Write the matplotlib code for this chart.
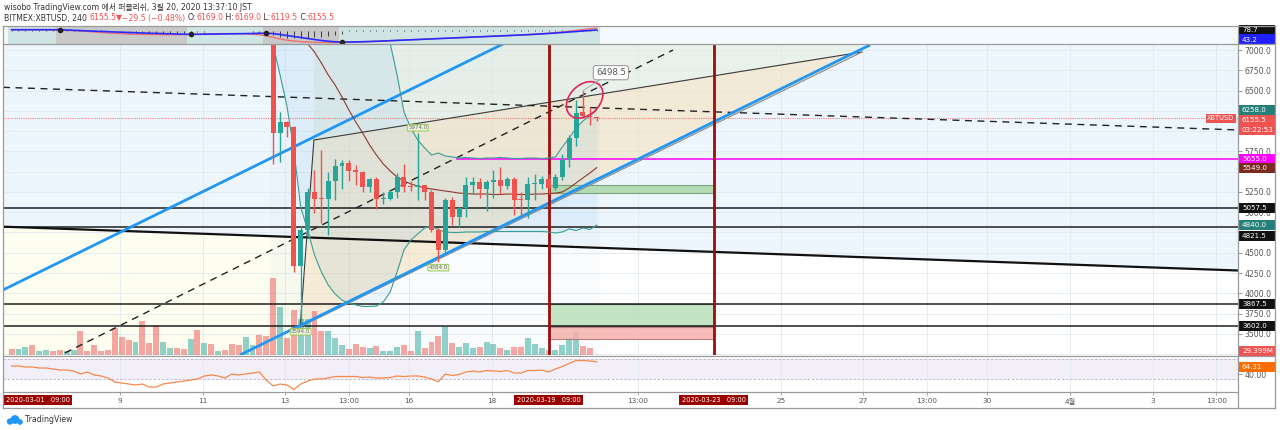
import matplotlib
matplotlib.use("Agg")
import matplotlib.pyplot as plt
import matplotlib.dates as mdates
import matplotlib.patches as mpatches
import matplotlib.transforms as mtransforms
from matplotlib import font_manager as fm
from matplotlib.lines import Line2D
import numpy as np
import pandas as pd


def pick_font(*names):
    for n in names:
        try:
            fm.findfont(fm.FontProperties(family=n), fallback_to_default=False)
            return n
        except Exception:
            pass
    return "DejaVu Sans"


base_font = pick_font("Liberation Sans Narrow", "DejaVu Sans")
plt.rcParams['font.family'] = [base_font, 'DejaVu Sans', 'Noto Sans CJK KR']
fs = 6.6 if base_font != "DejaVu Sans" else 5.6

# ---------------- data: BITMEX XBTUSD, 4h bars ----------------
last_bar = "2020-03-20 13:00"
n_bars = 86          # all bars in view (the first 38 trade above the window)
n_pre = 38
view_start, view_end = "2020-03-06 04:00", "2020-04-05 01:40"
price_lo, price_hi = 3239, 7074

opens = [7650, 5980, 6116, 6047, 4336, 4780, 5254, 5165, 5159, 5389,
         5570, 5603, 5520, 5492, 5315, 5406, 5159, 5159, 5249, 5430,
         5315, 5305, 5335, 5253, 4780, 4534, 5150, 4945, 5052, 5335,
         5376, 5282, 5376, 5397, 5323, 5406, 5160, 5150, 5348, 5348,
         5406, 5294, 5438, 5644, 5911, 6232, 6190, 6169]
highs = [7950, 6239, 6130, 6060, 4830, 5300, 5520, 5767, 5499, 5660,
         5640, 5640, 5580, 5510, 5420, 5430, 5250, 5270, 5480, 5590,
         5380, 5974, 5340, 5270, 4810, 5170, 5190, 5060, 5435, 5440,
         5420, 5400, 5520, 5560, 5430, 5430, 5250, 5430, 5470, 5450,
         5470, 5470, 5720, 5950, 6380, 6498.5, 6300, 6169]
lows = [5594, 5624, 5931, 4266, 3594, 4700, 4990, 4870, 4719, 5150,
        5290, 5389, 5330, 5255, 5255, 5040, 5100, 5150, 5180, 5253,
        5260, 5150, 5150, 4760, 4384, 4500, 4840, 4820, 4945, 5220,
        5170, 5020, 5170, 5230, 5280, 4960, 4960, 4930, 5150, 5290,
        5230, 5270, 5400, 5560, 5820, 6170, 6080, 6119.5]
closes = [5980, 6116, 6047, 4336, 4780, 5255, 5161, 5159, 5389, 5570,
          5603, 5512, 5492, 5315, 5406, 5159, 5170, 5249, 5430, 5307,
          5305, 5335, 5253, 4780, 4534, 5150, 4945, 5052, 5335, 5376,
          5282, 5376, 5397, 5323, 5406, 5150, 5150, 5348, 5360, 5406,
          5294, 5438, 5644, 5911, 6227, 6190, 6170, 6155.5]

# volume in millions of contracts
volume_pre = [630, 630, 800, 970, 400, 500, 400, 500, 400, 500,
              2400, 400, 1000, 400, 500, 2700, 1800, 1500, 1300, 3400,
              1170, 3000, 1300, 730, 730, 630, 1630, 2500, 1170, 1070,
              400, 500, 1130, 1000, 1830, 970, 2000, 1900]
volume_pre_up = [0, 1, 1, 0, 1, 1, 0, 0, 1, 1, 0, 0, 0, 0, 0, 0, 0, 0, 1, 0,
                 0, 0, 1, 1, 0, 0, 1, 0, 1, 0, 1, 0, 0, 0, 1, 1, 0, 0]
volume = [7670, 4830, 1700, 4500, 3600, 3600, 4400, 2400, 2400, 1700,
          1000, 600, 1100, 830, 670, 930, 430, 430, 770, 1000,
          430, 2430, 670, 1270, 1930, 2770, 1200, 770, 1200, 670,
          830, 1330, 1100, 670, 530, 770, 770, 1670, 1100, 670,
          530, 500, 1030, 1670, 2270, 930, 670, 29.4]

# Bollinger bands
bb_upper = [8250, 8300, 8350, 8500, 8700, 8750, 8700, 8650, 8600, 8550,
            8450, 8350, 8200, 8000, 7800, 7550, 7300, 7080, 6692, 6236,
            6038, 5890, 5792, 5705, 5730, 5693, 5681, 5668, 5675, 5668,
            5662, 5668, 5668, 5675, 5668, 5662, 5662, 5668, 5668, 5662,
            5668, 5681, 5804, 5915, 6038, 6125, 6186, 6258]
bb_basis = [7560, 7470, 7380, 7260, 7160, 7080, 6975, 6840, 6692, 6568,
            6420, 6260, 6112, 5977, 5830, 5705, 5594, 5508, 5434, 5385,
            5348, 5323, 5298, 5286, 5274, 5261, 5249, 5236, 5230, 5224,
            5224, 5224, 5218, 5218, 5224, 5224, 5218, 5218, 5224, 5224,
            5230, 5236, 5249, 5298, 5360, 5422, 5483, 5549]
bb_lower = [7062, 6692, 6310, 5767, 5064, 4781, 4472, 4263, 4102, 3991,
            3917, 3880, 3856, 3837, 3837, 3843, 3893, 4016, 4263, 4534,
            4657, 4731, 4805, 4830, 4781, 4756, 4750, 4750, 4756, 4756,
            4756, 4762, 4762, 4762, 4762, 4762, 4762, 4762, 4762, 4762,
            4756, 4744, 4756, 4793, 4774, 4805, 4787, 4840]

rsi = [56.2, 56.2, 54.2, 54.2, 52.3, 52.3, 50.3, 48.3, 48.3, 46.4,
       40.4, 44.4, 38.5, 36.5, 32.6, 24.7, 22.7, 20.7, 18.8, 20.7,
       14.8, 14.8, 20.7, 22.7, 24.7, 26.6, 28.6, 30.6, 36.5, 38.5,
       36.5, 32.6, 40.4, 38.5, 40.4, 42.4, 44.4, 28.6,
       16.8, 20.7, 18.8, 9.9, 20.7, 26.6, 30.6, 30.6, 32.6, 35.5,
       35.5, 35.5, 35.5, 33.5, 34.5, 32.6, 32.6, 33.5, 36.5, 35.5,
       36.5, 36.5, 34.5, 30.6, 25.3, 40.4, 37.5, 39.5, 44.4, 46.4,
       44.4, 47.3, 46.4, 45.4, 47.3, 42.4, 42.4, 47.3, 47.3, 48.3,
       44.4, 50.3, 55.2, 61.1, 67.0, 67.0, 66.1, 64.31]

# top oscillator pane
osc_blue = [14.3, 14.3, 14.3, 14.3, 14.3, 14.3, 14.3, 14.3,
            14.0, 13.7, 13.4, 13.1, 12.8, 12.6, 12.3, 12.0, 11.8, 11.5,
            11.3, 11.0, 10.8, 10.6, 10.4, 10.2, 10.0, 9.8, 9.6,
            9.7, 9.8, 9.9, 10.0, 10.1, 10.2, 10.3, 10.4, 10.5, 10.7, 10.8,
            10.4, 9.5, 8.5, 7.5, 6.5, 5.5, 4.5, 3.5, 2.8, 2.2, 1.9,
            2.0, 2.1, 2.3, 2.5, 2.7, 3.0, 3.3, 3.6, 3.9, 4.2,
            4.5, 4.8, 5.1, 5.4, 5.7, 6.0, 6.3, 6.6, 6.9, 7.2,
            7.5, 7.8, 8.1, 8.4, 8.7, 9.0, 9.3, 9.7, 10.1, 10.5,
            11.0, 11.5, 12.0, 12.5, 13.0, 13.5, 14.0]
osc_red = [14.3, 14.3, 14.2, 14.2, 14.1, 14.1, 14.0, 13.9,
           13.7, 13.4, 13.0, 12.5, 12.0, 11.5, 11.0, 10.6, 10.3, 10.0,
           9.8, 9.6, 9.5, 9.4, 9.3, 9.3, 9.4, 9.5, 9.6,
           9.8, 10.0, 10.2, 10.3, 10.4, 10.4, 10.3, 10.1, 9.8, 9.2, 8.2,
           6.5, 5.0, 3.8, 3.0, 2.4, 2.0, 1.7, 1.5, 1.4, 1.4, 1.5,
           1.7, 1.9, 2.1, 2.4, 2.7, 3.0, 3.3, 3.6, 3.9, 4.2,
           4.5, 4.8, 5.1, 5.4, 5.7, 6.0, 6.3, 6.6, 6.9, 7.2,
           7.5, 7.8, 8.1, 8.4, 8.7, 9.0, 9.4, 9.8, 10.3, 10.8,
           11.4, 12.0, 12.8, 13.6, 14.4, 15.2, 15.8]
osc_hist = [0.3, 0.3, 0.2, 0.3, 0.3, 0.2, 0.3, 0.3, 0.2, 0.3, 0.3, 0.2, 0.3, 0.2,
            -1.5, -2, -2.5, -3, -3, -3.5, -3.5, -3, -3, -2.5, -2, -2, -1.5,
            -1, -1, -0.8, -0.6, -0.5, -0.5, -0.6, -0.8, -1.2, -2,
            -3, -4.5, -6, -7, -7.5, -7.5, -7, -6.5, -6, -5, -4, -3,
            0.6, 0.7, 0.8, 0.8, 0.9, 0.9, 1.0, 1.0, 1.0, 1.0,
            1.0, 1.0, 0.9, 0.9, 0.9, 0.9, 0.8, 0.8, 0.8, 0.8,
            0.8, 0.8, 0.8, 0.9, 0.9, 0.9, 0.9, 1.0, 1.0, 1.0,
            1.0, 1.0, 1.0, 1.1, 1.1, 1.1, 1.1]
osc_zero = 13.4
osc_tags = [("78.7", "#111111"), ("43.2", "#2020ff")]
regime_runs = [("#cfe5e3", 7), ("#c9c9c9", 19), ("#cfe5e3", 11), ("#c9c9c9", 11), ("#cfe5e3", 38)]

# drawings on the price pane: (time, price) points
channel_upper = [("2020-03-06 04:00", 4041), ("2020-03-18 06:30", 7074)]
channel_lower = [("2020-03-11 21:45", 3239), ("2020-03-27 03:50", 7062)]
wedge = [("2020-03-13 08:40", 3585), ("2020-03-13 16:40", 5890), ("2020-03-26 23:10", 6975)]
dash_steep = [("2020-03-07 16:00", 3264), ("2020-03-22 09:20", 7000)]
dash_flat = [("2020-03-06 04:00", 6540), ("2020-04-05 01:40", 6014)]
slope_black = [("2020-03-06 04:00", 4821.5), ("2020-04-05 01:40", 4281)]
black_levels = [5057.5, 4821.5, 3867.5, 3602.0]
magenta_level, magenta_from = 5655.0, "2020-03-17 04:00"
vertical_marks = ["2020-03-19 09:00", "2020-03-23 09:00"]
zones = [(5240, 5335, "#a9d8a9", "#6f9a6f"),
         (3602, 3867.5, "#b8e0b8", "#555555"),
         (3440, 3590, "#f7b2ae", "#b07070")]
ring_center = ("2020-03-20 06:00", 6385)
last_price = 6155.5
countdown = "03:22:53"
volume_now = "29.399M"

# price-scale labels that are not hidden behind the value tags
price_ticks = [3500, 3750, 4000, 4250, 4500, 5000, 5250, 5750, 6500, 6750, 7000]

xtick_times = ["2020-03-09", "2020-03-11", "2020-03-13", "2020-03-14 13:00", "2020-03-16",
               "2020-03-18", "2020-03-21 13:00", "2020-03-25", "2020-03-27",
               "2020-03-28 13:00", "2020-03-30", "2020-04-01", "2020-04-03", "2020-04-04 13:00"]
xtick_labels = ["9", "11", "13", "13:00", "16", "18", "13:00", "25", "27",
                "13:00", "30", "4월", "3", "13:00"]

# ---------------- figure ----------------
W, H = 1280, 430
fig = plt.figure(figsize=(W / 100, H / 100), dpi=100, facecolor="white")


def px_box(x0, y0, x1, y1):
    return [x0 / W, 1 - y1 / H, (x1 - x0) / W, (y1 - y0) / H]


def T(s):
    return mdates.date2num(pd.Timestamp(s))


ax_osc = fig.add_axes(px_box(3, 26, 1238, 44))
ax = fig.add_axes(px_box(3, 44, 1238, 355))
ax_rsi = fig.add_axes(px_box(3, 356, 1238, 392))

t = mdates.date2num(pd.date_range(end=last_bar, periods=n_bars, freq="4h"))
tc = t[n_pre:]
bar = 4 / 24
x_lo, x_hi = T(view_start), T(view_end)

for a in (ax_osc, ax, ax_rsi):
    a.set_xlim(x_lo, x_hi)
    for sp in a.spines.values():
        sp.set_visible(False)
    a.tick_params(axis="x", bottom=False, labelbottom=False)

grid_c = "#e1e9f0"

# ---- main pane backgrounds ----
ax.set_ylim(price_lo, price_hi)
ax.set_facecolor("white")
(sa, pa), (sb, pb) = slope_black
ta, tb = T(sa), T(sb)
ax.fill([ta, tb, tb, ta], [pa, pb, price_hi, price_hi], color="#eef6fd", lw=0, zorder=0.1)
tw0 = T(wedge[0][0])
pw0 = np.interp(tw0, [ta, tb], [pa, pb])
ax.fill([ta, tw0, tw0, ta], [pa, pw0, price_lo, price_lo], color="#fdfdf0", lw=0, zorder=0.1)

for p in np.arange(3250, 7001, 250):
    ax.axhline(p, color=grid_c, lw=0.6, zorder=0.3)
for s in xtick_times:
    ax.axvline(T(s), color=grid_c, lw=0.6, zorder=0.3)
    ax_rsi.axvline(T(s), color=grid_c, lw=0.6, zorder=0.3)

# wedge (triangle pattern) and tint above it
wx = [T(s) for s, _ in wedge]
wy = [p for _, p in wedge]
ax.fill([wx[1], wx[2], wx[2], wx[1]], [wy[1], wy[2], price_hi, price_hi],
        color="#e4edd6", alpha=0.45, lw=0, zorder=0.4)
ax.fill(wx, wy, color="#f6deb0", alpha=0.5, lw=0, zorder=0.5)
ax.plot([wx[0], wx[1], wx[2]], [wy[0], wy[1], wy[2]], color="#3a3a3a", lw=0.8, zorder=2.5)
ax.plot([wx[0], wx[2]], [wy[0], wy[2]], color="#8a8a8a", lw=0.8, zorder=2.5)

# Bollinger fill
ax.fill_between(tc, bb_lower, bb_upper, color="#2196f3", alpha=0.07, lw=0, zorder=0.6)
ax.axvspan(tc[0] - bar / 2, tc[-1] + bar / 2, color="#b0c4d0", alpha=0.06, lw=0, zorder=0.6)

# volume, scaled to the pane bottom
vol_tr = mtransforms.blended_transform_factory(
    ax.transData, mtransforms.Affine2D().scale(1, 1 / 31100) + ax.transAxes)
vol_all = volume_pre + volume
up_all = [bool(u) for u in volume_pre_up] + [c >= o for o, c in zip(opens, closes)]
vcol = ["#26a69a" if u else "#ef5350" for u in up_all]
for ti, v, c in zip(t, vol_all, vcol):
    ax.add_artist(mpatches.Rectangle((ti - 0.072, 0), 0.144, v, transform=vol_tr,
                                     fc=c, alpha=0.5, lw=0, zorder=1))

# zones
for lo, hi, fc, ec in zones:
    ax.add_patch(mpatches.Rectangle((T(vertical_marks[0]), lo),
                                    T(vertical_marks[1]) - T(vertical_marks[0]), hi - lo,
                                    fc=fc, ec=ec, lw=0.8, alpha=0.85, zorder=1.5))

# horizontal levels
for lvl in black_levels:
    ax.axhline(lvl, color="#1e1e1e", lw=1.1, zorder=2)
ax.plot([T(magenta_from), x_hi], [magenta_level, magenta_level], color="#ff00ff", lw=1.1, zorder=2)
ax.plot([ta, tb], [pa, pb], color="#111111", lw=1.6, zorder=2)
ax.axhline(last_price, color="#ef5350", lw=0.8, ls=(0, (1, 1)), alpha=0.7, zorder=2)

for seg in (dash_steep, dash_flat):
    ax.plot([T(seg[0][0]), T(seg[1][0])], [seg[0][1], seg[1][1]], color="#222222",
            lw=1.0, ls=(0, (5, 4)), zorder=2.6)
for seg in (channel_upper, channel_lower):
    ax.plot([T(seg[0][0]), T(seg[1][0])], [seg[0][1], seg[1][1]], color="#2196f3",
            lw=2.0, zorder=3, solid_capstyle="butt")

for s in vertical_marks:
    ax.axvline(T(s), color="#9b0e0e", lw=2.0, zorder=3)

# Bollinger lines
ax.plot(tc, bb_upper, color="#3a9d93", lw=0.8, zorder=3.5)
ax.plot(tc, bb_lower, color="#3a9d93", lw=0.8, zorder=3.5)
ax.plot(tc, bb_basis, color="#8c3a2e", lw=0.8, zorder=3.5)

# candles
ccol = ["#26a69a" if c >= o else "#ef5350" for o, c in zip(opens, closes)]
ax.vlines(tc, lows, highs, colors=ccol, lw=1.0, zorder=4)
bodies = [max(abs(c - o), 14) for o, c in zip(opens, closes)]
ax.bar(tc, bodies, bottom=[min(o, c) for o, c in zip(opens, closes)], width=0.12,
       color=ccol, lw=0, zorder=4.5)

# high / low markers
lab_style = dict(fontsize=fs - 1.6, color="#6a6a6a", ha="center", zorder=9,
                 bbox=dict(boxstyle="round,pad=0.15", fc="#e9f5d4", ec="#8bc34a", lw=0.6))
ax.annotate(f"{highs[21]:.1f}", (tc[21], highs[21]), xytext=(0, 3), textcoords="offset pixels",
            va="bottom", **lab_style)
ax.annotate(f"{lows[24]:.1f}", (tc[24], lows[24]), xytext=(0, -3), textcoords="offset pixels",
            va="top", **lab_style)
ax.annotate(f"{lows[4]:.1f}", (tc[4], lows[4]), xytext=(0, -3), textcoords="offset pixels",
            va="top", **lab_style)

# ring and callout at the top
cx, cy = ax.transData.transform((T(ring_center[0]), ring_center[1]))
ax.add_artist(mpatches.Ellipse((cx, cy), 42, 30, angle=45, transform=mtransforms.IdentityTransform(),
                               fill=False, ec="#e0245e", lw=1.2, zorder=8))
ax.annotate(f"{highs[45]:.1f}", (tc[45], highs[45]), xytext=(28, 18), textcoords="offset pixels",
            ha="center", va="center", fontsize=fs + 0.6, color="#555555", zorder=9,
            bbox=dict(boxstyle="round,pad=0.3", fc="white", ec="#9e9e9e", lw=0.8),
            arrowprops=dict(arrowstyle="-", color="#a0a0a0", lw=0.6, shrinkA=0, shrinkB=0))

# price scale
ax.yaxis.tick_right()
ax.set_yticks(price_ticks)
ax.set_yticklabels([f"{p:.1f}" for p in price_ticks])
ax.tick_params(axis="y", length=3, width=0.6, color="#888888", labelsize=fs,
               labelcolor="#555555", pad=1.5)


# ---- right-hand value tags, fixed 10 px boxes ----
def y_px(a, val):
    return H - a.transData.transform((x_lo, val))[1]


def fig_tag(ypix, text, fc, tc="white"):
    fig.add_artist(mpatches.Rectangle((1238.5 / W, 1 - (ypix + 5) / H), 36 / W, 10 / H,
                                      transform=fig.transFigure, fc=fc, ec="none", zorder=19))
    fig.text(1242 / W, 1 - ypix / H, text, ha="left", va="center", fontsize=fs - 0.5,
             color=tc, zorder=20)


fig_tag(y_px(ax, bb_upper[-1]), f"{bb_upper[-1]:.1f}", "#26807a")
fig_tag(y_px(ax, last_price) + 1.5, f"{last_price:.1f}", "#ef5350")
fig_tag(y_px(ax, last_price) + 11.5, countdown, "#ef5350")
fig_tag(y_px(ax, magenta_level), f"{magenta_level:.1f}", "#ff00ff")
fig_tag(y_px(ax, bb_basis[-1]), f"{bb_basis[-1]:.1f}", "#7b2a1e")
fig_tag(y_px(ax, black_levels[0]), f"{black_levels[0]:.1f}", "#111111")
fig_tag(y_px(ax, bb_lower[-1]), f"{bb_lower[-1]:.1f}", "#26807a")
fig_tag(y_px(ax, black_levels[1]) + 9.5, f"{black_levels[1]:.1f}", "#111111")
fig_tag(y_px(ax, black_levels[2]), f"{black_levels[2]:.1f}", "#111111")
fig_tag(y_px(ax, black_levels[3]), f"{black_levels[3]:.1f}", "#111111")
fig_tag(y_px(ax, price_lo) - 4, volume_now, "#ef5350")
ytr = mtransforms.blended_transform_factory(ax.transAxes, ax.transData)
ax.text(0.997, last_price, "XBTUSD", transform=ytr, ha="right", va="center", fontsize=fs - 0.8,
        color="white", zorder=20, bbox=dict(boxstyle="square,pad=0.2", fc="#ef5350", ec="none"))

# ---- top oscillator pane ----
ax_osc.set_ylim(0, 18)
ax_osc.set_facecolor("#f4f9fd")
ax_osc.set_yticks([])
start = 0
dots = []
for col, n in regime_runs:
    ax_osc.axvspan(t[start] - bar / 2, t[start + n - 1] + bar / 2, color=col, lw=0, zorder=0)
    if start > 0:
        dots.append(start)
    start += n
ax_osc.vlines(t, osc_zero, [osc_zero + h for h in osc_hist], color="#222222", lw=0.6, zorder=1)
ax_osc.plot(t, osc_red, color="#f07070", lw=1.0, zorder=2)
ax_osc.plot(t, osc_blue, color="#2a2aff", lw=1.2, zorder=3)
ax_osc.plot([t[i] for i in dots], [osc_blue[i] for i in dots], "o", color="#222222",
            ms=3, zorder=4)
for k, (txt, col) in enumerate(osc_tags):
    fig_tag(30.5 + 9 * k, txt, col)

# ---- RSI pane ----
ax_rsi.set_ylim(5, 75.9)
ax_rsi.set_facecolor("white")
ax_rsi.axhspan(30, 70, color="#7e57c2", alpha=0.09, lw=0, zorder=0.2)
for lvl in (30, 70):
    ax_rsi.axhline(lvl, color="#b9a9cc", lw=0.6, ls=(0, (3, 2)), zorder=0.5)
ax_rsi.plot(t, rsi, color="#f5894a", lw=0.9, zorder=2)
ax_rsi.yaxis.tick_right()
ax_rsi.set_yticks([40])
ax_rsi.set_yticklabels(["40.00"])
ax_rsi.tick_params(axis="y", length=3, width=0.6, color="#888888", labelsize=fs,
                   labelcolor="#555555", pad=1.5)
fig_tag(y_px(ax_rsi, rsi[-1]) + 5, f"{rsi[-1]:.2f}", "#ff6d00")

# time scale
ax_rsi.set_xticks([T(s) for s in xtick_times])
ax_rsi.set_xticklabels(xtick_labels)
ax_rsi.tick_params(axis="x", bottom=True, labelbottom=True, length=2, width=0.6,
                   color="#999999", labelsize=fs - 0.4, labelcolor="#555555", pad=2.5)
xtr = mtransforms.blended_transform_factory(ax_rsi.transData, fig.transFigure)
date_box = dict(boxstyle="square,pad=0.35", fc="#990000", ec="none")
for s in vertical_marks:
    ax_rsi.text(T(s), 1 - 400 / H, pd.Timestamp(s).strftime("%Y-%m-%d   %H:%M"), transform=xtr,
                ha="center", va="center", fontsize=fs - 0.8, color="white", clip_on=False,
                zorder=20, bbox=date_box)
fig.text(6 / W, 1 - 400 / H, "2020-03-01   09:00", ha="left", va="center", fontsize=fs - 0.8,
         color="white", bbox=date_box)

# frame and separators
line_c = "#9a9a9a"
for (x0, y0, x1, y1) in [(3, 26, 1275, 26), (3, 408, 1275, 408), (3, 26, 3, 408),
                         (1275, 26, 1275, 408), (1238, 26, 1238, 408), (3, 44, 1275, 44),
                         (3, 355.5, 1275, 355.5), (3, 392, 1238, 392)]:
    fig.add_artist(Line2D([x0 / W, x1 / W], [1 - y0 / H, 1 - y1 / H], color=line_c, lw=0.9,
                          zorder=25))

# header
fig.text(4 / W, 1 - 8 / H, "wisobo TradingView.com 에서 퍼블리쉬, 3월 20, 2020 13:37:10 JST",
         fontsize=fs, color="#333333", va="center")
red, dark = "#ef5350", "#333333"
parts = [("BITMEX:XBTUSD, 240 ", dark), ("6155.5", red), ("▼", red), ("−29.5 (−0.48%) ", red),
         ("O:", dark), ("6169.0", red), (" H:", dark), ("6169.0", red), (" L:", dark),
         ("6119.5", red), (" C:", dark), ("6155.5", red)]
renderer = fig.canvas.get_renderer()
x = 4 / W
for s, c in parts:
    txt = fig.text(x, 1 - 18 / H, s, fontsize=fs, color=c, va="center")
    x += txt.get_window_extent(renderer=renderer).width / fig.bbox.width

# footer logo
for (lx, ly, r) in [(10, 421.5, 3.2), (15, 419.5, 4.4), (20, 422, 2.8)]:
    fig.add_artist(mpatches.Ellipse((lx / W, 1 - ly / H), 2 * r / W, 2 * r / H,
                                    transform=fig.transFigure, fc="#2196f3", ec="none"))
fig.text(25 / W, 1 - 420 / H, "TradingView", fontsize=fs, color="#333333", va="center")

fig.savefig("out.png", dpi=100, facecolor="white")
